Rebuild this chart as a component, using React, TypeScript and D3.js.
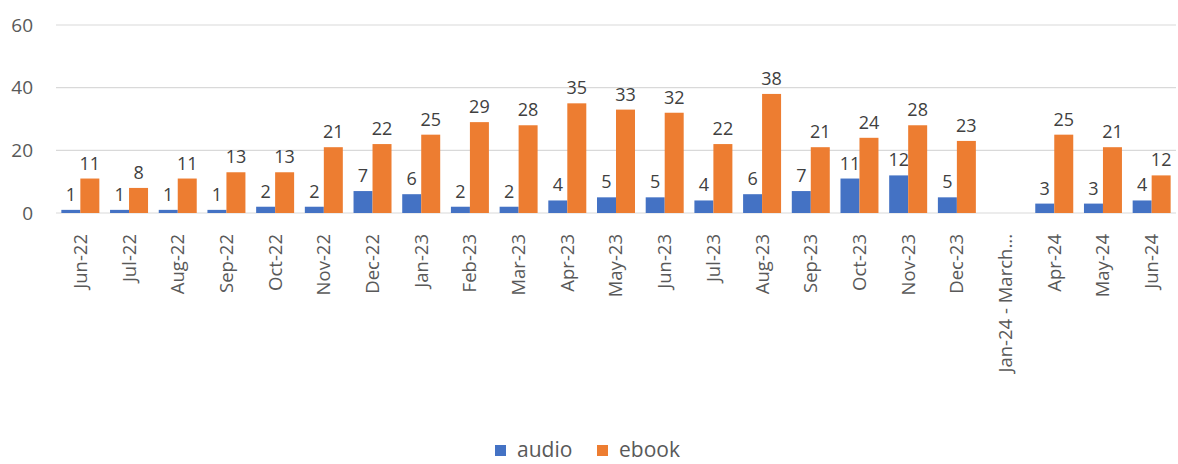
import React, { useEffect, useRef } from "react";
import * as d3 from "d3";

const categories = [
  "Jun-22", "Jul-22", "Aug-22", "Sep-22", "Oct-22", "Nov-22", "Dec-22",
  "Jan-23", "Feb-23", "Mar-23", "Apr-23", "May-23", "Jun-23", "Jul-23",
  "Aug-23", "Sep-23", "Oct-23", "Nov-23", "Dec-23", "Jan-24 - March...",
  "Apr-24", "May-24", "Jun-24",
];
const audio: (number | null)[] = [
  1, 1, 1, 1, 2, 2, 7, 6, 2, 2, 4, 5, 5, 4, 6, 7, 11, 12, 5, null, 3, 3, 4,
];
const ebook: (number | null)[] = [
  11, 8, 11, 13, 13, 21, 22, 25, 29, 28, 35, 33, 32, 22, 38, 21, 24, 28, 23, null, 25, 21, 12,
];
const seriesNames = ["audio", "ebook"];
const yTicks = [0, 20, 40, 60];

const colors: Record<string, string> = { audio: "#4472C4", ebook: "#ED7D31" };
const font = "'Open Sans', 'Noto Sans', sans-serif";

const App = () => {
  const svgRef = useRef<SVGSVGElement>(null);

  useEffect(() => {
    const svg = d3.select(svgRef.current);
    svg.selectAll("*").remove();
    const margin = { left: 56, right: 2, top: 25, bottom: 251 };
    const W = 1178, H = 464;

    const x = d3.scaleBand().domain(categories).range([margin.left, W - margin.right]).paddingInner(0.22).paddingOuter(0.11);
    const xs = d3.scaleBand().domain(seriesNames).range([0, x.bandwidth()]);
    const y = d3.scaleLinear().domain([0, 60]).range([H - margin.bottom, margin.top]);

    // gridlines
    svg.append("g")
      .selectAll("line")
      .data(yTicks)
      .join("line")
      .attr("x1", margin.left)
      .attr("x2", W - margin.right)
      .attr("y1", (d) => y(d))
      .attr("y2", (d) => y(d))
      .attr("stroke", "#d9d9d9")
      .attr("stroke-width", 1.2);

    svg.append("g")
      .selectAll("text")
      .data(yTicks)
      .join("text")
      .attr("x", 33)
      .attr("y", (d) => y(d))
      .attr("dy", "0.35em")
      .attr("text-anchor", "end")
      .attr("font-family", font)
      .attr("font-size", 19)
      .attr("fill", "#595959")
      .text((d) => d);

    const rows = categories.map((c, i) => ({ c, audio: audio[i], ebook: ebook[i] }));

    const groups = svg.append("g")
      .selectAll("g")
      .data(rows)
      .join("g")
      .attr("transform", (d) => `translate(${x(d.c)},0)`);

    seriesNames.forEach((s) => {
      const valid = (d: any) => d[s] != null;
      groups.filter(valid)
        .append("rect")
        .attr("x", xs(s)!)
        .attr("width", xs.bandwidth())
        .attr("y", (d: any) => y(d[s]))
        .attr("height", (d: any) => y(0) - y(d[s]))
        .attr("fill", colors[s]);
      groups.filter(valid)
        .append("text")
        .attr("x", xs(s)! + xs.bandwidth() / 2)
        .attr("y", (d: any) => y(d[s]) - 9)
        .attr("text-anchor", "middle")
        .attr("font-family", font)
        .attr("font-size", 18)
        .attr("fill", "#404040")
        .text((d: any) => d[s]);
    });

    // x labels
    svg.append("g")
      .selectAll("text")
      .data(categories)
      .join("text")
      .attr("transform", (d) => `translate(${x(d)! + x.bandwidth() / 2},${y(0) + 21}) rotate(-90)`)
      .attr("dy", "0.35em")
      .attr("text-anchor", "end")
      .attr("font-family", font)
      .attr("font-size", 18.5)
      .attr("fill", "#595959")
      .text((d) => d);

    // legend
    const legend = svg.append("g").attr("transform", "translate(495,450)");
    const lx = [0, 102];
    seriesNames.forEach((s, i) => {
      legend.append("rect").attr("x", lx[i]).attr("y", -5).attr("width", 11).attr("height", 11).attr("fill", colors[s]);
      legend.append("text")
        .attr("x", lx[i] + 22)
        .attr("y", 0)
        .attr("dy", "0.35em")
        .attr("font-family", font)
        .attr("font-size", 21)
        .attr("fill", "#595959")
        .text(s);
    });
  }, []);

  return <svg ref={svgRef} width={1178} height={464} style={{ position: "absolute", left: 0, top: 0, background: "#fff" }}></svg>;
};

export default App;
